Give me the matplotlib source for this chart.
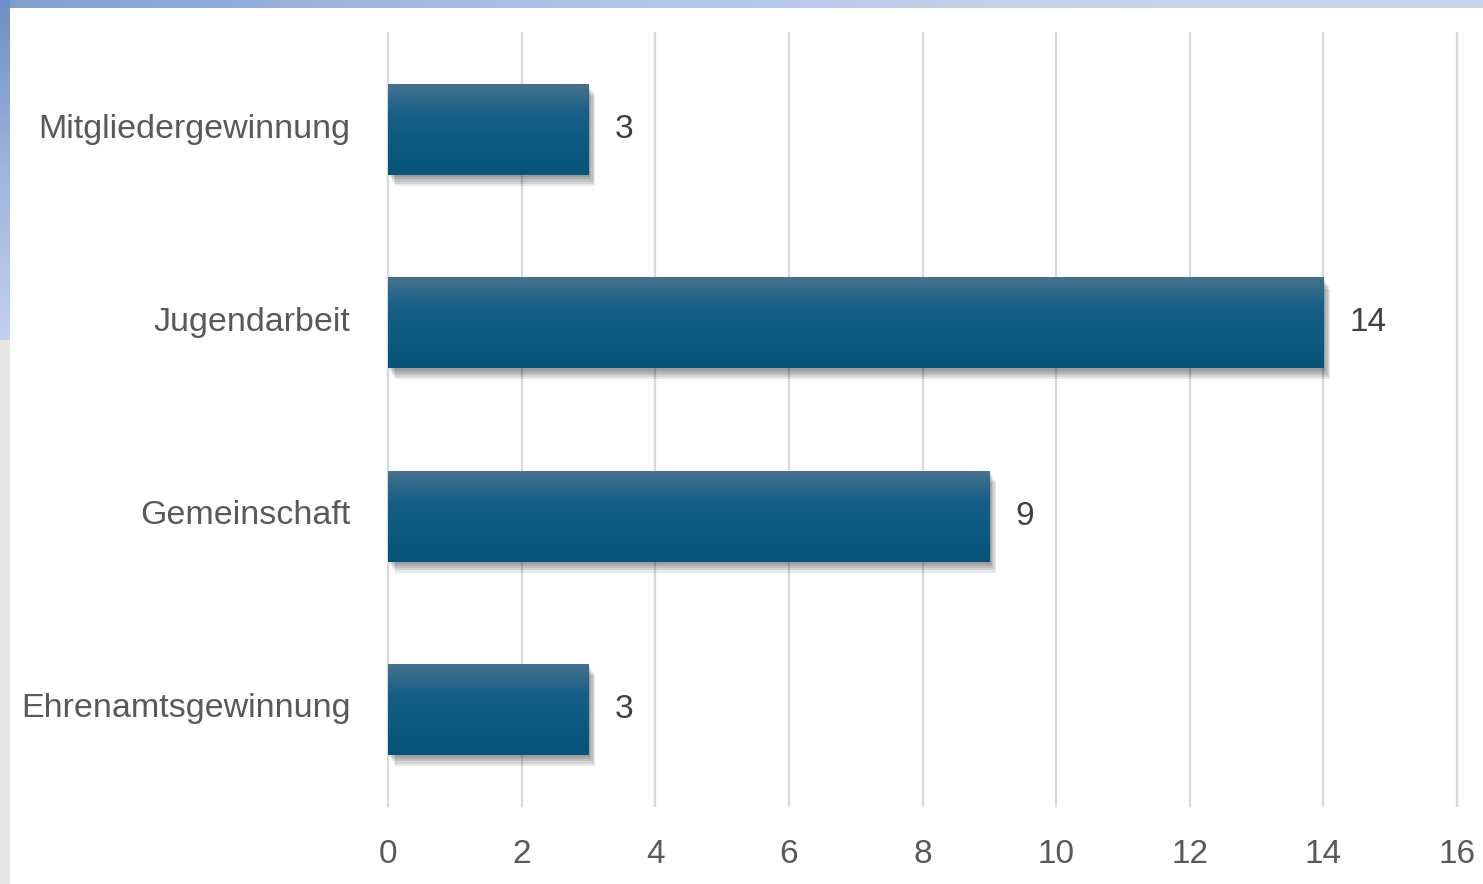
import numpy as np
import matplotlib
matplotlib.use("Agg")
import matplotlib.pyplot as plt
from matplotlib import patheffects as pe
from matplotlib.patches import Rectangle
from matplotlib.colors import LinearSegmentedColormap
from matplotlib.transforms import ScaledTranslation

categories = ["Mitgliedergewinnung", "Jugendarbeit", "Gemeinschaft", "Ehrenamtsgewinnung"]
values = [3, 14, 9, 3]
xticks = [0, 2, 4, 6, 8, 10, 12, 14, 16]

plt.rcParams['font.family'] = ['Liberation Sans', 'DejaVu Sans']

W, H = 1483, 884
fig = plt.figure(figsize=(W / 100, H / 100), dpi=100)
fig.patch.set_facecolor("white")

# slide background strips (top and left)
bg = fig.add_axes([0, 0, 1, 1], zorder=-10)
bg.axis("off")
top_grad = np.linspace(0, 1, 256).reshape(1, -1)
cm_top = LinearSegmentedColormap.from_list("t", ["#7f9fd0", "#a9bfe4", "#c3d2ec", "#c9d6ee"])
bg.imshow(top_grad, extent=(0, W, 8, 0), aspect="auto", cmap=cm_top)
left_grad = np.linspace(0, 1, 256).reshape(-1, 1)
cm_left = LinearSegmentedColormap.from_list("l", ["#6f8fc8", "#9db5df", "#c2d1ee"])
bg.imshow(left_grad, extent=(0, 10, 340, 0), aspect="auto", cmap=cm_left)
bg.add_patch(Rectangle((0, 340), 10, H - 340, color="#e6e6e6", lw=0))
bg.set_xlim(0, W)
bg.set_ylim(H, 0)

ax = fig.add_axes([388 / W, 1 - 806 / H, (1457 - 388) / W, (806 - 33) / H])
ax.set_facecolor("none")
y = np.arange(len(categories))
shadow = [pe.SimplePatchShadow(offset=(o, -1.6 * o), shadow_rgbFace="#000000", alpha=0.09)
          for o in (1, 2, 3, 4, 5)]
bars = ax.barh(y, values, height=0.47, color="#0f5d85", zorder=3,
               path_effects=shadow + [pe.Normal()])

grad = np.linspace(0, 1, 256).reshape(-1, 1)
cm_bar = LinearSegmentedColormap.from_list("b", ["#46718f", "#165f87", "#0b5a80", "#07537a"])
for b in bars:
    x0, y0, w, h = b.get_x(), b.get_y(), b.get_width(), b.get_height()
    ax.imshow(grad, extent=(x0, x0 + w, y0 + h, y0), aspect="auto", cmap=cm_bar, zorder=4)

for b, v in zip(bars, values):
    ax.annotate(str(v), (b.get_x() + b.get_width(), b.get_y() + b.get_height() / 2),
                xytext=(26, 0), textcoords="offset pixels", va="center", ha="left",
                fontsize=24, color="#404040", zorder=5)

ax.set_xlim(0, 16)
ax.set_ylim(len(categories) - 0.5, -0.5)
ax.set_xticks(xticks)
ax.set_xticklabels([str(t) for t in xticks])
ax.set_yticks(y)
ax.set_yticklabels(categories)
ax.grid(axis="x", color="#d9d9d9", lw=1.6, zorder=0)
for gl in ax.get_xgridlines():
    gl.set_clip_on(False)
ax.set_axisbelow(True)
for s in ax.spines.values():
    s.set_visible(False)
ax.tick_params(axis="x", length=0, pad=24, labelsize=24, labelcolor="#595959")
ax.tick_params(axis="y", length=0, pad=27, labelsize=24.5, labelcolor="#595959")
off = ScaledTranslation(0, 4 / 100, fig.dpi_scale_trans)
for lbl in ax.get_yticklabels():
    lbl.set_transform(lbl.get_transform() + off)

fig.savefig("out.png", dpi=100)
